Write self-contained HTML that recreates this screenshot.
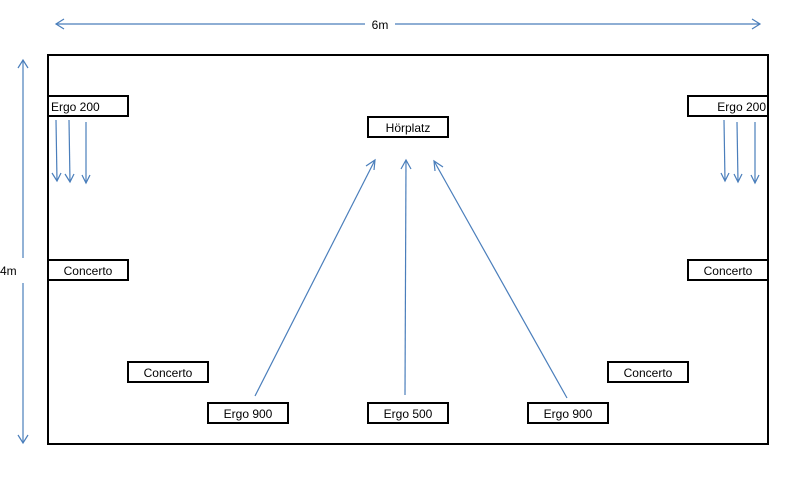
<!DOCTYPE html>
<html><head><meta charset="utf-8"><style>
html,body{margin:0;padding:0;background:#fff;}
svg{display:block;}
text{font-family:"Liberation Sans",sans-serif;font-size:12px;fill:#000;}
</style></head><body>
<svg width="797" height="478" viewBox="0 0 797 478" xmlns="http://www.w3.org/2000/svg">
<g stroke="#4a7ebb" stroke-width="1.2" fill="none">
 <line x1="56" y1="24" x2="365" y2="24"/><line x1="395" y1="24" x2="760" y2="24"/>
 <polyline points="64,19 56,24 64,29"/><polyline points="752,19 760,24 752,29"/>
 <line x1="23" y1="60" x2="23" y2="258"/><line x1="23" y1="283" x2="23" y2="443"/>
 <polyline points="18,68 23,60 28,68"/><polyline points="18,435 23,443 28,435"/>
 <line x1="56" y1="120" x2="57" y2="181"/><polyline points="52,173 57,181 61,173"/>
 <line x1="69" y1="120" x2="70" y2="182"/><polyline points="65,174 70,182 74,174"/>
 <line x1="86" y1="122" x2="86" y2="183"/><polyline points="82,175 86,183 90,175"/>
 <line x1="724" y1="120" x2="725" y2="181"/><polyline points="721,173 725,181 729,173"/>
 <line x1="737" y1="122" x2="738" y2="182"/><polyline points="734,174 738,182 742,174"/>
 <line x1="755" y1="122" x2="755" y2="183"/><polyline points="751,175 755,183 759,175"/>
 <line x1="255" y1="396" x2="375" y2="160"/><polyline points="366,166 375,160 374,170"/>
 <line x1="405" y1="395" x2="406" y2="160"/><polyline points="401,169 406,160 411,169"/>
 <line x1="567" y1="398" x2="434" y2="161"/><polyline points="435,171 434,161 443,167"/>
</g>
<text x="380" y="29" text-anchor="middle">6m</text>
<text x="0" y="275">4m</text>
<rect x="48" y="55" width="720" height="389" fill="none" stroke="#000" stroke-width="2"/>
<g fill="#fff" stroke="#000" stroke-width="2">
 <rect x="48" y="96" width="80" height="20"/>
 <rect x="688" y="96" width="80" height="20"/>
 <rect x="368" y="117" width="80" height="20"/>
 <rect x="48" y="260" width="80" height="20"/>
 <rect x="688" y="260" width="80" height="20"/>
 <rect x="128" y="362" width="80" height="20"/>
 <rect x="608" y="362" width="80" height="20"/>
 <rect x="208" y="403" width="80" height="20"/>
 <rect x="368" y="403" width="80" height="20"/>
 <rect x="528" y="403" width="80" height="20"/>
</g>
<text x="51" y="111">Ergo 200</text>
<text x="766" y="111" text-anchor="end">Ergo 200</text>
<text x="408" y="132" text-anchor="middle">Hörplatz</text>
<text x="88" y="275" text-anchor="middle">Concerto</text>
<text x="728" y="275" text-anchor="middle">Concerto</text>
<text x="168" y="377" text-anchor="middle">Concerto</text>
<text x="648" y="377" text-anchor="middle">Concerto</text>
<text x="248" y="418" text-anchor="middle">Ergo 900</text>
<text x="408" y="418" text-anchor="middle">Ergo 500</text>
<text x="568" y="418" text-anchor="middle">Ergo 900</text>
</svg>
</body></html>
